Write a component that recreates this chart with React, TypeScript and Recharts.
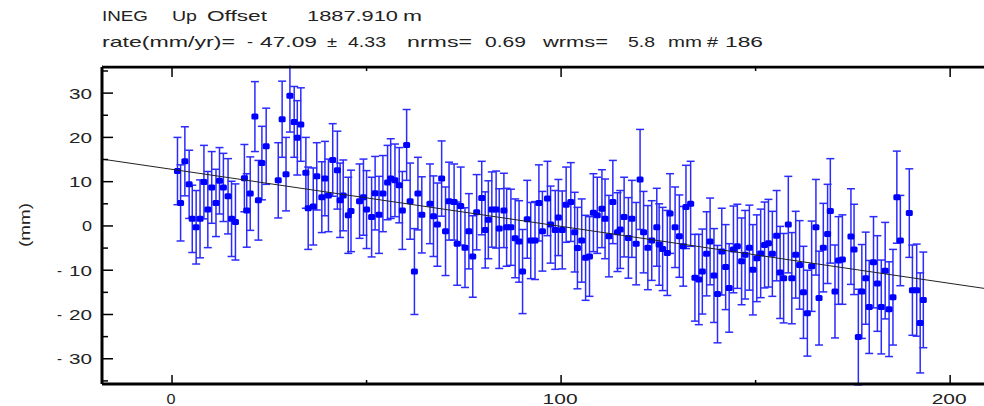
import React from 'react'
import { ScatterChart, Scatter, XAxis, YAxis, ErrorBar } from 'recharts'

// day of the series (x) and up offset in mm (y)
const days = [
  1.4, 2.2, 3.3, 4.4, 5.2, 6.2, 7.2, 8.2, 9.2, 10.2, 11.3, 12.2, 13.2, 14.4, 15.3, 16.3, 18.6, 19.2, 20.1, 21.3,
  22.2, 23.1, 24.2, 27.3, 28.3, 29.3, 30.3, 31.4, 32.2, 33.1, 34.4, 35.0,
  36.3, 37.2, 38.5, 39.3, 40.2, 41.3, 42.5, 43.2, 44.0, 45.3, 46.0, 48.2, 49.2, 50.0, 51.3, 52.2, 53.2, 54.2,
  55.4, 56.2, 57.3, 58.4, 59.2, 60.3, 61.2, 62.3, 63.2, 64.2, 66.3, 67.2, 68.2, 69.3, 70.3, 71.2,
  72.5, 73.3, 74.2, 75.3, 76.3, 77.3, 78.3, 79.6, 80.5, 81.3, 82.2, 83.3, 84.1, 85.3, 86.0, 87.1, 88.2, 89.2,
  90.1, 91.3, 92.2, 93.3, 94.3, 95.2, 96.5, 97.3, 98.5, 99.3, 100.3, 101.3, 102.5, 103.5, 104.2, 105.3, 106.3,
  107.3, 108.3, 109.3, 110.5, 111.3, 112.3, 113.3, 114.5, 115.2, 116.2, 117.3, 118.2, 119.3, 120.3, 121.2,
  122.3, 123.3, 124.6, 125.2, 126.1, 127.3, 128.0, 129.3, 130.4, 131.4, 132.1, 133.3, 134.4, 135.4, 136.3,
  137.4, 138.3, 139.3, 140.2, 141.3, 142.3, 143.2,
  144.3, 145.3, 146.4, 147.3, 148.4, 149.3, 150.3, 151.3, 152.3, 153.3, 154.3, 155.4, 156.3, 157.2, 158.4,
  159.3, 160.3, 161.3, 162.3, 163.3, 164.4, 165.5, 166.3, 167.4, 168.5, 169.2, 170.4, 171.3, 172.3, 174.5,
  175.3, 176.4, 177.3, 178.3, 179.2,
  180.3, 181.3, 182.3, 183.3, 184.3, 185.3, 186.3, 187.2, 189.5, 190.3, 191.4, 192.3, 193.1,
]

const upMm = [
  12.4, 5.2, 14.6, 9.4, 1.6, -0.3, 1.6, 9.9, 3.7, 8.7, 5.2, 10.2, 8.7, 6.7, 1.6, 0.9, 10.8, 3.5, 7.3, 24.7,
  5.8, 14.2, 18.0, 10.3, 24.1, 11.7, 29.4, 23.5, 19.9, 22.9, 12.0, 4.0,
  4.4, 11.2, 6.5, 10.7, 6.9, 14.9, 12.6, 5.8, 6.9, 2.4, 3.4, 5.6, 6.5, 3.7, 2.0, 7.4, 2.5, 7.3,
  9.8, 10.7, 10.3, 9.2, 3.5, 18.3, 5.6, -10.3, 7.3, 2.5, 5.0, 2.2, 0.3, 10.7, -1.2, 5.6,
  5.4, -4.0, 4.5, -4.9, -1.2, -6.9, 3.1, 6.3, -0.9, 1.4, 3.7, 3.7, -0.6, 3.5, -0.3, -0.3, -2.8, -3.5,
  -10.3, 1.5, -3.3, -3.3, 5.2, -1.2, 6.2, 0.3, -0.9, 1.9, -0.9, 4.8, 5.4, -1.4, -5.0, -3.3, -7.2,
  -6.9, 3.0, 2.4, 3.9, 1.6, -2.3, 5.4, -1.4, -0.8, 2.0, -2.7, 1.6, -4.0, 10.5, -1.4,
  -4.9, -3.3, -0.3, -4.2, -5.2, -6.1, 2.8, -0.3, -2.3, -4.6, 4.3, 5.0, -11.7, -12.1, -10.3,
  -6.3, -3.5, -11.2, -15.4, -5.8, -9.3, -14.0,
  -5.3, -4.6, -8.0, -6.5, -4.9, -9.9, -7.3, -6.2, -4.3, -3.9, -6.3, -2.2, -10.5, -11.8, 0.3,
  -11.8, -6.5, -8.8, -15.0, -19.7, -9.1, -0.3, -16.3, -4.9, -1.8, 3.4, -14.8, -7.8, -7.6, -2.4,
  -5.3, -25.1, -14.8, -11.8, -18.3,
  -8.2, -13.0, -18.3, -10.1, -18.8, -16.1, 6.5, -3.3, 2.9, -14.5, -14.5, -21.9, -16.7,
]

const sigmaMm = [
  7.6, 8.6, 7.8, 7.7, 7.6, 8.3, 8.8, 8.3, 8.6, 8.1, 7.6, 7.5, 7.7, 8.5, 8.5, 8.6, 7.6, 8.3, 8.3, 7.9,
  9.0, 8.3, 8.6, 8.5, 8.6, 8.3, 8.2, 8.0, 8.4, 8.3, 8.0, 9.3,
  8.7, 7.6, 8.0, 8.4, 8.2, 8.2, 8.8, 8.4, 8.0, 8.6, 9.2, 8.4, 8.6, 8.8, 9.0, 8.3, 8.7, 8.6,
  8.4, 9.0, 8.2, 8.5, 8.8, 8.0, 8.6, 9.7, 8.2, 8.6, 9.0, 9.1, 9.4, 8.5, 10.0, 8.8,
  8.6, 9.4, 8.8, 9.0, 8.5, 9.2, 8.5, 8.3, 8.6, 8.8, 8.5, 8.7, 9.0, 8.4, 8.8, 8.6, 8.9, 9.2,
  9.5, 8.8, 8.6, 8.8, 8.6, 9.0, 8.4, 8.7, 8.9, 8.6, 8.8, 8.5, 8.9, 9.0, 9.2, 9.4, 9.6,
  9.0, 8.8, 8.6, 8.8, 9.0, 9.2, 9.4, 8.9, 8.8, 9.0, 9.1, 8.7, 9.3, 11.3, 9.2,
  9.5, 9.0, 8.8, 9.2, 9.4, 9.6, 9.0, 9.1, 9.3, 9.0, 9.4, 9.6, 9.8, 10.2, 9.6,
  9.5, 9.8, 10.6, 11.0, 9.8, 9.6, 10.0,
  9.8, 9.5, 9.8, 10.0, 9.6, 10.2, 9.8, 10.0, 9.7, 9.9, 9.6, 10.2, 10.4, 10.1, 10.9,
  10.3, 9.8, 10.0, 10.4, 9.7, 10.2, 10.8, 10.6, 10.0, 11.2, 11.8, 10.5, 9.9, 10.1, 10.8,
  10.2, 10.8, 10.6, 10.4, 10.5,
  10.3, 10.8, 10.6, 10.9, 10.7, 10.8, 10.4, 10.2, 10.0, 10.2, 10.4, 11.3, 10.8,
]

// fitted trend, read at the two plot edges
const trendDays = [-18, 208.7]
const trendMm = [15.1, -14.1]

const xTicks = [0, 50, 100, 150, 200]
const yTicks = [-35, -30, -25, -20, -15, -10, -5, 0, 5, 10, 15, 20, 25, 30, 35]

const titleWords1 = ['INEG', 'Up', 'Offset', '1887.910', 'm']
const titleWords2 = ['rate(mm/yr)=', '-', '47.09', '±', '4.33', 'nrms=', '0.69', 'wrms=', '5.8', 'mm', '#', '186']

const FONT = "'Liberation Sans', Arial, sans-serif"
const INK = '#222'

const points = days.map((d, i) => ({ x: d, y: upMm[i], err: sigmaMm[i] }))
const trend = trendDays.map((d, i) => ({ x: d, y: trendMm[i] }))

// [x, width] for each word of the two header lines
const pos1 = [[102, 46], [172, 25], [207, 60], [307, 91], [403, 19]]
const pos2 = [[102, 133], [247, 6], [260, 57], [327, 10], [348, 38], [407, 65], [485, 41], [543, 65], [628, 27], [668, 34], [707, 11], [725, 38]]

const Marker = (p: any) => (
  <rect x={p.cx - 3.5} y={p.cy - 3} width={7} height={6} rx={1.5} fill="#0000ff" />
)

const BottomTick = (p: any) => {
  const v = p.payload.value
  const major = v % 100 === 0
  const s = String(v)
  return (
    <g>
      <line x1={p.x} x2={p.x} y1={p.y} y2={p.y - (major ? 9 : 4)} stroke="#000" strokeWidth={1.5} />
      {major && (
        <text x={p.x - 1} y={p.y + 20} textAnchor="middle" fontFamily={FONT} fontSize={15} fill={INK}
          textLength={s.length === 1 ? 9 : 35} lengthAdjust="spacingAndGlyphs">{s}</text>
      )}
    </g>
  )
}

const TopTick = (p: any) => {
  const major = p.payload.value % 100 === 0
  return <line x1={p.x} x2={p.x} y1={p.y} y2={p.y + (major ? 10 : 4)} stroke="#000" strokeWidth={1.5} />
}

const LeftTick = (p: any) => {
  const v = p.payload.value
  const major = v % 10 === 0
  const s = String(Math.abs(v))
  return (
    <g>
      <line x1={p.x} x2={p.x + (major ? 11 : 6)} y1={p.y} y2={p.y} stroke="#000" strokeWidth={1.5} />
      {major && v < 0 && (
        <text x={57} y={p.y + 5.5} fontFamily={FONT} fontSize={15} fill={INK}>-</text>
      )}
      {major && (
        <text x={92} y={p.y + 5.5} textAnchor="end" fontFamily={FONT} fontSize={15} fill={INK}
          textLength={s.length === 1 ? 10 : 23} lengthAdjust="spacingAndGlyphs">{s}</text>
      )}
    </g>
  )
}

export default function App() {
  const xDomain: [number, number] = [-18, 208.7]
  return (
    <div style={{ position: 'absolute', left: 0, top: 0, width: 984, height: 406, overflow: 'hidden', background: '#fff' }}>
      <ScatterChart width={984} height={406} margin={{ top: 57, right: 0, bottom: 0, left: 0 }}>
        <XAxis type="number" dataKey="x" domain={xDomain} ticks={xTicks} interval={0} height={22}
          allowDataOverflow tickSize={0} tickMargin={0} tickLine={false}
          axisLine={{ stroke: '#000', strokeWidth: 3 }} tick={<BottomTick />} />
        <XAxis xAxisId="top" orientation="top" type="number" dataKey="x" domain={xDomain} ticks={xTicks}
          interval={0} height={10} allowDataOverflow tickSize={0} tickMargin={0} tickLine={false}
          axisLine={{ stroke: '#000', strokeWidth: 3 }} tick={<TopTick />} />
        <YAxis type="number" dataKey="y" domain={[-35.7, 35.9]} ticks={yTicks} interval={0} width={102}
          allowDataOverflow tickSize={0} tickMargin={0} tickLine={false}
          axisLine={{ stroke: '#000', strokeWidth: 3 }} tick={<LeftTick />} />
        <Scatter data={points} dataKey="y" shape={Marker} isAnimationActive={false}>
          <ErrorBar dataKey="err" direction="y" width={4} stroke="#2b2bff" strokeWidth={1.5} />
        </Scatter>
        <Scatter data={trend} dataKey="y" line={{ stroke: INK, strokeWidth: 1 }} shape={() => <g />}
          isAnimationActive={false} />
      </ScatterChart>
      <svg width={984} height={406} style={{ position: 'absolute', left: 0, top: 0, pointerEvents: 'none' }}>
        <rect x={103} y={48} width={881} height={17.5} fill="#fff" />
        {titleWords1.map((w, i) => (
          <text key={'a' + i} x={pos1[i][0]} y={21} fontFamily={FONT} fontSize={14.5} fill={INK}
            textLength={pos1[i][1]} lengthAdjust="spacingAndGlyphs">{w}</text>
        ))}
        {titleWords2.map((w, i) => (
          <text key={'b' + i} x={pos2[i][0]} y={46.5} fontFamily={FONT} fontSize={14.5} fill={INK}
            textLength={pos2[i][1]} lengthAdjust="spacingAndGlyphs">{w}</text>
        ))}
        <text x={0} y={0} transform="translate(30 225) rotate(-90)" textAnchor="middle" fontFamily={FONT}
          fontSize={15} fill={INK} textLength={44} lengthAdjust="spacingAndGlyphs">(mm)</text>
      </svg>
    </div>
  )
}
